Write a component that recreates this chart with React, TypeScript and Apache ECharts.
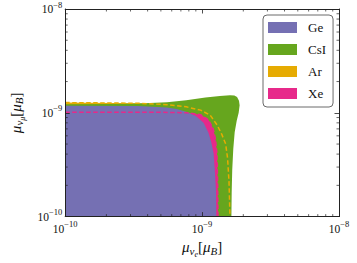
import React, { useEffect, useRef } from "react";
import * as echarts from "echarts";

// ---- data ----
const AXIS_MIN = 1e-10;
const AXIS_MAX = 1e-8;

const legendLabels = ["Ge", "CsI", "Ar", "Xe"];

// boundaries of the allowed regions: [mu_nu_e, mu_nu_mu] in units of mu_B
const arBoundary: [number, number][] = [
  [1e-10, 1.255e-9], [3.42e-10, 1.236e-9], [5.54e-10, 1.198e-9], [7.66e-10, 1.141e-9],
  [9.76e-10, 1.061e-9], [1.147e-9, 0.948e-9], [1.284e-9, 0.767e-9], [1.393e-9, 0.62e-9],
  [1.486e-9, 0.502e-9], [1.535e-9, 0.365e-9], [1.573e-9, 0.215e-9], [1.598e-9, 1e-10],
];

const csiBoundary: [number, number][] = [
  [1e-10, 1.21e-9], [2.1e-10, 1.216e-9], [3.42e-10, 1.228e-9], [5.54e-10, 1.263e-9],
  [7.66e-10, 1.318e-9], [1.058e-9, 1.404e-9], [1.349e-9, 1.45e-9], [1.6e-9, 1.475e-9],
  [1.72e-9, 1.468e-9], [1.8e-9, 1.42e-9], [1.86e-9, 1.31e-9], [1.88e-9, 1.18e-9],
  [1.85e-9, 1.0e-9], [1.79e-9, 0.84e-9], [1.73e-9, 0.65e-9], [1.69e-9, 0.45e-9],
  [1.66e-9, 0.28e-9], [1.645e-9, 0.17e-9], [1.637e-9, 1e-10],
];

const xeBoundary: [number, number][] = [
  [1e-10, 1.011e-9], [4.72e-10, 1.011e-9], [6.52e-10, 1.006e-9], [7.66e-10, 1.0e-9],
  [8.31e-10, 0.99e-9], [9.76e-10, 0.958e-9], [1.111e-9, 0.858e-9], [1.204e-9, 0.705e-9],
  [1.253e-9, 0.558e-9], [1.284e-9, 0.406e-9], [1.299e-9, 0.215e-9], [1.306e-9, 1e-10],
];

const geBoundary: [number, number][] = [
  [1e-10, 1.172e-9], [3.42e-10, 1.16e-9], [5.54e-10, 1.124e-9], [6.52e-10, 1.089e-9],
  [7.66e-10, 1.026e-9], [9.0e-10, 0.934e-9], [1.025e-9, 0.8e-9], [1.111e-9, 0.647e-9],
  [1.166e-9, 0.524e-9], [1.214e-9, 0.406e-9], [1.243e-9, 0.265e-9], [1.264e-9, 0.174e-9],
  [1.27e-9, 1e-10],
];

const minorTickValues = [
  2e-10, 3e-10, 4e-10, 5e-10, 6e-10, 7e-10, 8e-10, 9e-10,
  2e-9, 3e-9, 4e-9, 5e-9, 6e-9, 7e-9, 8e-9, 9e-9,
];

const COLORS: Record<string, string> = {
  Ge: "#7570b3",
  CsI: "#66a61e",
  Ar: "#e6ab02",
  Xe: "#e7298a",
};

const SERIF = "'Liberation Serif', 'DejaVu Serif', serif";
const INK = "#111";

const tickRich = {
  b: { fontFamily: SERIF, fontSize: 11.5, color: INK },
  s: { fontFamily: SERIF, fontSize: 8.5, color: INK, padding: [0, 0, 9, 0] },
};

const nameRich = {
  i: { fontFamily: SERIF, fontStyle: "italic", fontSize: 15, color: INK },
  n: { fontFamily: SERIF, fontSize: 15, color: INK },
  s1: { fontFamily: SERIF, fontStyle: "italic", fontSize: 11, color: INK, padding: [7, 0, 0, 0] },
  s2: { fontFamily: SERIF, fontStyle: "italic", fontSize: 8, color: INK, padding: [14, 0, 0, 0] },
  s3: { fontFamily: SERIF, fontStyle: "italic", fontSize: 11, color: INK, padding: [7, 0, 0, 0] },
};

const tickFmt = (v: number) => {
  const e = Math.round(Math.log10(v));
  return `{b|10}{s|\u2212${Math.abs(e)}}`;
};

function regionSeries(name: string, pts: [number, number][], z: number) {
  return {
    type: "custom",
    name,
    z,
    clip: true,
    silent: true,
    itemStyle: { color: COLORS[name] },
    data: pts,
    encode: { x: 0, y: 1 },
    renderItem: (params: any, api: any) => {
      if (params.dataIndex !== 0) return null;
      const poly = [...pts, [AXIS_MIN, AXIS_MIN]].map((p) => api.coord(p));
      return {
        type: "polygon",
        shape: { points: poly },
        style: { fill: COLORS[name], stroke: null },
      };
    },
  };
}

function dashSeries(name: string, pts: [number, number][], z: number) {
  return {
    type: "line",
    name: name + " boundary",
    z,
    silent: true,
    showSymbol: false,
    symbol: "none",
    data: pts,
    lineStyle: { color: COLORS[name], width: 1.5, type: [4.5, 2.5] },
  };
}

const axisCommon = {
  type: "log",
  logBase: 10,
  min: AXIS_MIN,
  max: AXIS_MAX,
  z: 10,
  axisLine: { show: true, onZero: false, lineStyle: { color: "#222", width: 1 } },
  axisTick: { show: true, inside: true, length: 4.5, lineStyle: { color: "#222", width: 0.8 } },
  splitLine: { show: false },
};

export default function App() {
  const ref = useRef<HTMLDivElement>(null);

  useEffect(() => {
    document.body.style.margin = "0";
    if (!ref.current) return;
    const chart = echarts.init(ref.current, null, { renderer: "svg" });

    const option: any = {
      animation: false,
      backgroundColor: "#ffffff",
      grid: { left: 54, right: 18, top: 9, bottom: 37, containLabel: false },
      legend: {
        data: legendLabels,
        orient: "vertical",
        left: 263,
        top: 15,
        icon: "rect",
        itemWidth: 29,
        itemHeight: 11,
        itemGap: 9,
        padding: [6, 7, 7, 5],
        borderColor: "#444",
        borderWidth: 0.8,
        borderRadius: 4,
        backgroundColor: "#fff",
        selectedMode: false,
        textStyle: { fontFamily: SERIF, fontSize: 13, color: INK, padding: [0, 0, 0, 6] },
      },
      xAxis: [
        {
          ...axisCommon,
          position: "bottom",
          axisLabel: { show: true, margin: 3, formatter: tickFmt, rich: tickRich },
          name: "{i|\u03bc}{s1|\u03bd}{s2|e}{n|[}{i|\u03bc}{s3|B}{n|]}",
          nameLocation: "middle",
          nameGap: 15,
          nameTextStyle: { rich: nameRich },
        },
        {
          ...axisCommon,
          position: "top",
          axisLabel: { show: false },
        },
      ],
      yAxis: [
        {
          ...axisCommon,
          position: "left",
          axisLabel: { show: true, margin: 3, formatter: tickFmt, rich: tickRich },
          name: "{i|\u03bc}{s1|\u03bd}{s2|\u03bc}{n|[}{i|\u03bc}{s3|B}{n|]}",
          nameLocation: "middle",
          nameGap: 37,
          nameRotate: 90,
          nameTextStyle: { rich: nameRich },
        },
        {
          ...axisCommon,
          position: "right",
          axisLabel: { show: false },
        },
      ],
      series: [
        regionSeries("Ar", arBoundary, 1),
        regionSeries("CsI", csiBoundary, 2),
        regionSeries("Xe", xeBoundary, 3),
        regionSeries("Ge", geBoundary, 4),
        dashSeries("Xe", xeBoundary, 5),
        dashSeries("Ar", arBoundary, 6),
        {
          type: "custom",
          z: 11,
          silent: true,
          clip: false,
          data: minorTickValues.map((v) => [v, v]),
          encode: { x: 0, y: 1 },
          renderItem: (params: any, api: any) => {
            const v = api.value(0);
            const b = api.coord([v, AXIS_MIN]);
            const t = api.coord([v, AXIS_MAX]);
            const l = api.coord([AXIS_MIN, v]);
            const r = api.coord([AXIS_MAX, v]);
            const L = 2.5;
            const st = { stroke: "#222", lineWidth: 0.7 };
            return {
              type: "group",
              children: [
                { type: "line", shape: { x1: b[0], y1: b[1], x2: b[0], y2: b[1] - L }, style: st },
                { type: "line", shape: { x1: t[0], y1: t[1], x2: t[0], y2: t[1] + L }, style: st },
                { type: "line", shape: { x1: l[0], y1: l[1], x2: l[0] + L, y2: l[1] }, style: st },
                { type: "line", shape: { x1: r[0], y1: r[1], x2: r[0] - L, y2: r[1] }, style: st },
              ],
            };
          },
        },
      ],
    };

    chart.setOption(option);
    return () => chart.dispose();
  }, []);

  return (
    <div
      ref={ref}
      style={{ position: "absolute", left: 0, top: 0, width: 357, height: 263 }}
    />
  );
}
